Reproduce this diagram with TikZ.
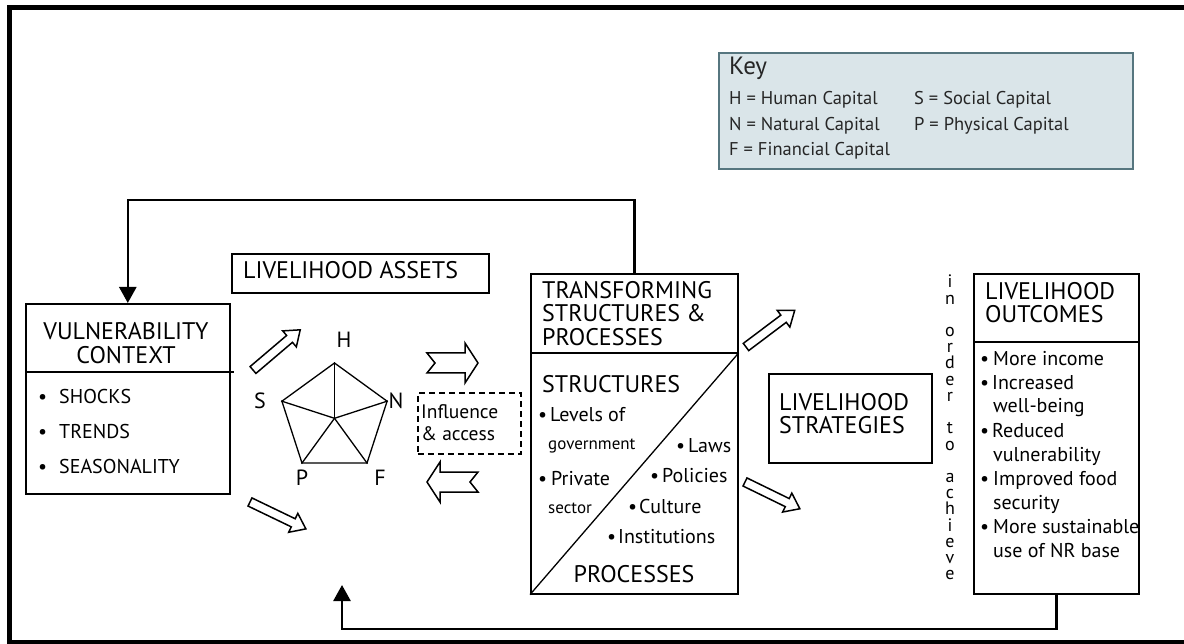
\documentclass[tikz,border=0pt]{standalone}
\usepackage{fontspec}
\setmainfont{PT Sans}
\usetikzlibrary{arrows.meta,shapes.geometric,calc}

\definecolor{keyfill}{HTML}{DAE5E9}
\definecolor{keyline}{HTML}{56767F}

% hollow block arrow: name, x, y, angle, length, shaft half-width, head half-width, head length, tail notch
\newcommand{\hollowarrow}[9]{%
  \draw[blockarrow, shift={(#2,#3)}, rotate=#4]
    (0,#6) -- ({#5-#8},#6) -- ({#5-#8},#7) -- (#5,0) -- ({#5-#8},-#7)
    -- ({#5-#8},-#6) -- (0,-#6) -- (#9,0) -- cycle;%
  \coordinate (#1) at (#2,#3);}

\begin{document}
\begin{tikzpicture}[x=1pt,y=-1pt,
  box/.style={draw, line width=1.6pt, inner sep=0pt, anchor=north west},
  title/.style={anchor=base west, inner sep=0pt, font=\fontsize{24}{28}\selectfont},
  item/.style={anchor=base west, inner sep=0pt, font=\fontsize{20}{24}\selectfont},
  small/.style={anchor=base west, inner sep=0pt, font=\fontsize{17}{20}\selectfont},
  keytext/.style={anchor=base west, inner sep=0pt, text=black!85, font=\fontsize{18.5}{20}\selectfont},
  capletter/.style={inner sep=0pt, font=\fontsize{22}{24}\selectfont},
  vletter/.style={anchor=base, inner sep=0pt, font=\fontsize{18}{20}\selectfont},
  feedback/.style={line width=2.6pt, -{Triangle[length=16pt,width=17pt]}},
  blockarrow/.style={draw, line width=1.5pt, fill=white, line join=miter},
]
\useasboundingbox (0,0) rectangle (1184,644);
\clip (0,0) rectangle (1184,644);

% outer frame
\draw[line width=5pt] (1200,7.5) -- (9.5,7.5) -- (9.5,642) -- (1200,642);

% key
\node[box, draw=keyline, fill=keyfill, line width=1.8pt,
      minimum width=414pt, minimum height=116pt] (key) at (718,52) {};
\node[keytext, font=\fontsize{25}{28}\selectfont] (keyhead) at (729,75) {Key};
\node[keytext] (keyH) at (729,105) {H = Human Capital};
\node[keytext] (keyN) at (729,131) {N = Natural Capital};
\node[keytext] (keyF) at (729,156) {F = Financial Capital};
\node[keytext] (keyS) at (914,105) {S = Social Capital};
\node[keytext] (keyP) at (914,131) {P = Physical Capital};

% vulnerability context
\node[box, minimum width=204pt, minimum height=190pt] (vc) at (25,303) {};
\draw[line width=1.4pt] ([yshift=-69pt]vc.north west) -- ([yshift=-69pt,xshift=3pt]vc.north east);
\node[anchor=base, inner sep=0pt, font=\fontsize{24}{28}\selectfont] (vct1) at (126,340) {VULNERABILITY};
\node[anchor=base, inner sep=0pt, font=\fontsize{24}{28}\selectfont] (vct2) at (126,363) {CONTEXT};
\node[item] (vcb1) at (38,403) {\textbullet};
\node[item] (vci1) at (59,403) {SHOCKS};
\node[item] (vcb2) at (38,438) {\textbullet};
\node[item] (vci2) at (59,438) {TRENDS};
\node[item] (vcb3) at (38,473) {\textbullet};
\node[item] (vci3) at (59,473) {SEASONALITY};

% livelihood assets
\node[box, minimum width=257pt, minimum height=39pt] (la) at (231,253) {};
\node[title] (lat) at (243,279) {LIVELIHOOD ASSETS};

\node[regular polygon, regular polygon sides=5, minimum size=110.6pt, inner sep=0pt,
      draw, line width=1.3pt] (pent) at (334.5,418.3) {};
\foreach \k in {1,...,5} \draw[line width=1.3pt] (pent.center) -- (pent.corner \k);
\node[capletter] (capH) at (344,340) {H};
\node[capletter] (capS) at (260,401) {S};
\node[capletter] (capN) at (396,401) {N};
\node[capletter] (capP) at (302,478) {P};
\node[capletter] (capF) at (380,478) {F};

% influence and access
\node[box, dashed, dash pattern=on 6pt off 4pt, minimum width=103pt, minimum height=61pt] (infl) at (417,392) {};
\node[anchor=base west, inner sep=0pt, font=\fontsize{19.5}{22}\selectfont] (inflt1) at (421,418) {Influence};
\node[anchor=base west, inner sep=0pt, font=\fontsize{19.5}{22}\selectfont] (inflt2) at (421,440) {\& access};

% transforming structures and processes
\node[box, minimum width=207pt, minimum height=320pt] (ts) at (530,273) {};
\draw[line width=1.4pt] ([yshift=-80pt]ts.north west) -- ([yshift=-80pt]ts.north east);
\draw[line width=1.3pt] (ts.south west) -- ([yshift=-80pt]ts.north east);
\node[title] (tst1) at (542,299) {TRANSFORMING};
\node[title] (tst2) at (542,322) {STRUCTURES \&};
\node[title] (tst3) at (542,346) {PROCESSES};
\node[title] (tsstr) at (542,392) {STRUCTURES};
\node[item] (tsb1) at (538,421) {\textbullet};
\node[item] (tsi1) at (550,421) {Levels of};
\node[small] (tsi1b) at (548,449) {government};
\node[item] (tsb2) at (538,485) {\textbullet};
\node[item] (tsi2) at (551,485) {Private};
\node[small] (tsi2b) at (548,513) {sector};
\node[item] (tsb3) at (676,452) {\textbullet};
\node[item] (tsi3) at (688,452) {Laws};
\node[item] (tsb4) at (650,482) {\textbullet};
\node[item] (tsi4) at (662,482) {Policies};
\node[item] (tsb5) at (628,513) {\textbullet};
\node[item] (tsi5) at (639,513) {Culture};
\node[item] (tsb6) at (607,543) {\textbullet};
\node[item] (tsi6) at (618,543) {Institutions};
\node[anchor=base, inner sep=0pt, font=\fontsize{24}{28}\selectfont] (tsproc) at (634,582) {PROCESSES};

% livelihood strategies
\node[box, minimum width=163pt, minimum height=89pt] (ls) at (768,373) {};
\node[title] (lst1) at (779,410) {LIVELIHOOD};
\node[title] (lst2) at (779,433) {STRATEGIES};

% vertical phrase
\foreach \c [count=\i from 0] in {i,n,{},o,r,d,e,r,{},t,o,{},a,c,h,i,e,v,e}
  \node[vletter] (ach\i) at (950,{288+16.2*\i}) {\c};

% livelihood outcomes
\node[box, minimum width=165pt, minimum height=320pt] (lo) at (973,273) {};
\draw[line width=1.4pt] ([yshift=-69pt]lo.north west) -- ([yshift=-69pt]lo.north east);
\node[title] (lot1) at (985,300) {LIVELIHOOD};
\node[title] (lot2) at (985,323) {OUTCOMES};
\node[item] (lob1) at (980,366) {\textbullet};
\node[item] (loi1) at (993,366) {More income};
\node[item] (lob2) at (980,390) {\textbullet};
\node[item] (loi2) at (992,390) {Increased};
\node[item] (loi2b) at (993,413) {well-being};
\node[item] (lob3) at (980,437) {\textbullet};
\node[item] (loi3) at (992,437) {Reduced};
\node[item] (loi3b) at (993,461) {vulnerability};
\node[item] (lob4) at (980,485) {\textbullet};
\node[item] (loi4) at (993,485) {Improved food};
\node[item] (loi4b) at (993,509) {security};
\node[item] (lob5) at (980,533) {\textbullet};
\node[item] (loi5) at (993,533) {More sustainable};
\node[item] (loi5b) at (993,557) {use of NR base};

% hollow block arrows
\hollowarrow{baS}{253}{370}{40.4}{62}{4.5}{10.5}{14}{0}
\hollowarrow{baP}{250}{502}{-25.7}{62}{4.5}{10.5}{14}{0}
\hollowarrow{baR}{427}{363}{0}{51}{10}{20}{13}{8}
\hollowarrow{baL}{478}{482}{180}{51}{10}{20}{13}{8}
\hollowarrow{baU}{746}{347}{37}{61}{4.5}{10.5}{14}{0}
\hollowarrow{baD}{745}{482}{-26}{61}{4.5}{10.5}{14}{0}

% feedback connectors
\coordinate (topturn) at (0,200);
\coordinate (botturn) at (0,629);
\coordinate (assetin) at (342,585);
\draw[feedback] (ts.north) -- (ts.north |- topturn) -| (vc.north);
\draw[feedback] (lo.south) -- (lo.south |- botturn) -| (assetin);
\end{tikzpicture}
\end{document}
